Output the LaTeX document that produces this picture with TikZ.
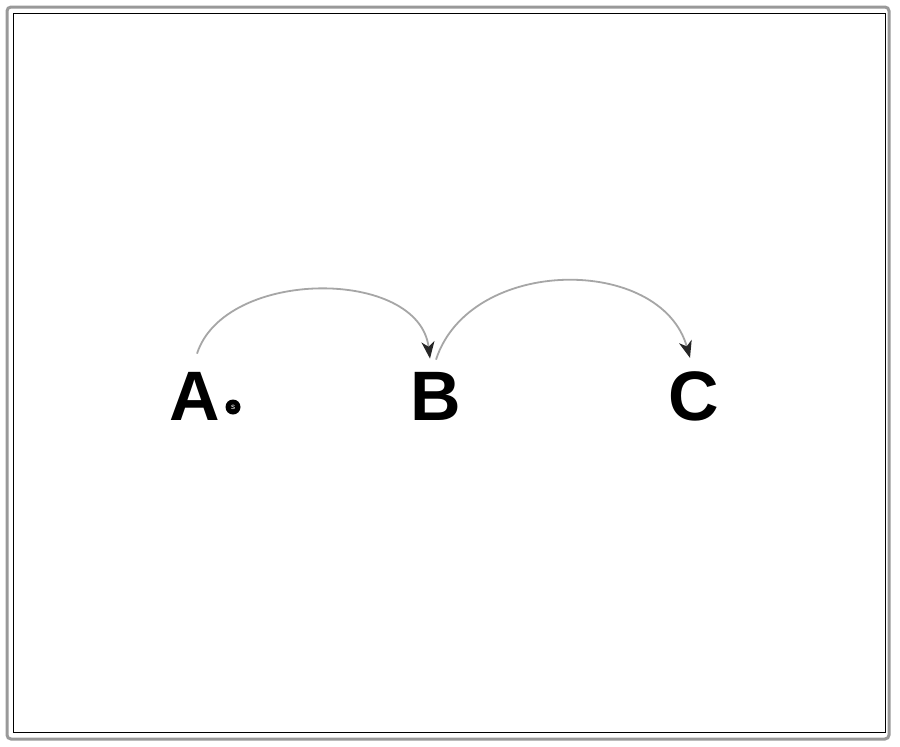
\documentclass[tikz,border=0pt]{standalone}
\usepackage{fontspec}
\setmainfont{Liberation Sans}
\usetikzlibrary{arrows.meta}
\begin{document}
\begin{tikzpicture}[x=1pt,y=-1pt,
  letter/.style={inner sep=0pt,anchor=base,font=\fontsize{70}{70}\selectfont\bfseries},
  arc/.style={draw=gray!70,line width=1.8pt,-{Stealth[length=17pt,width=13pt,inset=5pt,color=black!85]}}]
\useasboundingbox (0,0) rectangle (900,747);
\fill[white] (0,0) rectangle (900,747);
\draw[gray!80,line width=3pt,rounded corners=4pt] (7,7) rectangle (889,739);
\draw[black,line width=1pt] (13,13) rectangle (885,732);
\node[letter] (A) at (195,420) {A};
\node[letter] (B) at (436,420) {B};
\node[letter] (C) at (694,420) {C};
\node[circle,fill=black,inner sep=0pt,minimum size=15pt,text=white,font=\fontsize{8}{8}\selectfont] (s) at (233,407) {s};
\coordinate (a1) at ([shift={(2,-18)}]A.north);
\coordinate (b1) at ([shift={(-6,-13)}]B.north);
\coordinate (b2) at ([shift={(0,-12)}]B.north);
\coordinate (c1) at ([shift={(-4,-13)}]C.north);
\draw[arc] (a1) .. controls +(28,-86) and +(-11,-91) .. (b1);
\draw[arc] (b2) .. controls +(34,-104) and +(-29,-103) .. (c1);
\end{tikzpicture}
\end{document}
